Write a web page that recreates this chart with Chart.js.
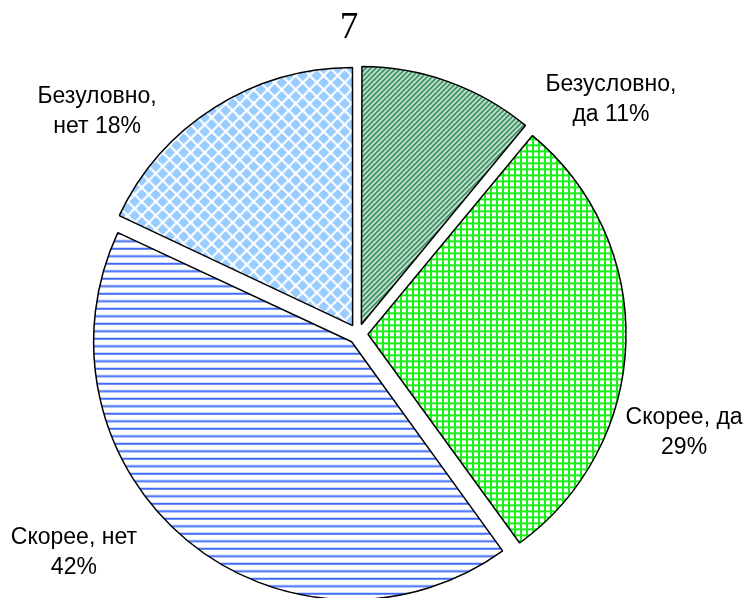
<!DOCTYPE html>
<html>
<head>
<meta charset="utf-8">
<script src="https://cdn.jsdelivr.net/npm/chart.js@4"></script>
<style>
  body { margin: 0; background: #fff; }
  canvas { display: block; }
</style>
</head>
<body>
<canvas id="pieChart" width="747" height="598"></canvas>
<script>
// Datos del gráfico
const chartTitle = '7';
const categories = [['Безусловно,', 'да 11%'], ['Скорее, да', '29%'], ['Скорее, нет', '42%'], ['Безуловно,', 'нет 18%']];
const values = [11, 29, 42, 18];
// posición de etiquetas: [ángulo desde arriba en grados, distancia relativa al radio]
const labelAngles = [47.2, 106.9, 232.4, 310.4];
const labelDist = [1.336, 1.321, 1.390, 1.328];

const pieRadius = 258;
const sliceOffset = 40;   // chart.js divide el offset entre 4

// Patrones de relleno
function makePattern(w, h, draw) {
    const c = document.createElement('canvas');
    c.width = w;
    c.height = h;
    const g = c.getContext('2d');
    g.fillStyle = '#fff';
    g.fillRect(0, 0, w, h);
    draw(g, w, h);
    return g.createPattern(c, 'repeat');
}

const ctx = document.getElementById('pieChart').getContext('2d');

// rayas diagonales verde oscuro
const diagPattern = makePattern(5, 5, function(g, w, h) {
    g.strokeStyle = '#2e8b57';
    g.lineWidth = 2.1;
    g.beginPath();
    g.moveTo(0, h); g.lineTo(w, 0);
    g.moveTo(-1, 1); g.lineTo(1, -1);
    g.moveTo(w - 1, h + 1); g.lineTo(w + 1, h - 1);
    g.stroke();
});
// cuadrícula verde
const gridPattern = makePattern(6, 6, function(g, w, h) {
    g.fillStyle = '#1aef1a';
    g.fillRect(0, 0, 2, h);
    g.fillRect(0, 0, w, 2);
});
// líneas horizontales azules
const hlinePattern = makePattern(4, 15, function(g, w, h) {
    g.fillStyle = '#3f6cf6';
    g.fillRect(0, 0, w, 2);
    g.fillRect(0, 7.5, w, 2);
});
// rombos azul claro (pixeles nítidos)
const diamondPattern = makePattern(14, 14, function(g, w, h) {
    g.fillStyle = '#99ccff';
    const d = 5;
    [[7, 7], [0, 0], [14, 0], [0, 14], [14, 14]].forEach(function(p) {
        for (let dy = -d; dy < d; dy++) {
            const half = d - Math.abs(dy + 0.5) + 0.5;
            g.fillRect(Math.round(p[0] - half), p[1] + dy, Math.round(half * 2), 1);
        }
    });
});

// chart.js agranda el radio de cada porción según su ángulo; lo compensamos
const radiusFix = {
    id: 'radiusFix',
    beforeDatasetsDraw(chart) {
        const off = sliceOffset / 4;
        chart.getDatasetMeta(0).data.forEach(function(arc) {
            const fix = 1 - Math.sin(Math.min(Math.PI, arc.circumference || 0));
            arc.outerRadius = pieRadius - off * fix;
        });
    }
};

const labelsPlugin = {
    id: 'pieLabels',
    afterDraw(chart) {
        const c = chart.ctx;
        const arc = chart.getDatasetMeta(0).data[0];
        const cx = arc.x, cy = arc.y, r = pieRadius;
        c.save();
        c.fillStyle = '#000';
        c.textAlign = 'center';
        c.textBaseline = 'middle';
        c.font = '23px "Liberation Sans", Arial, sans-serif';
        categories.forEach(function(lines, i) {
            const a = labelAngles[i] * Math.PI / 180;
            const x = cx + Math.sin(a) * r * labelDist[i];
            const y = cy - Math.cos(a) * r * labelDist[i];
            c.fillText(lines[0], x, y - 15);
            c.fillText(lines[1], x, y + 15);
        });
        // título
        c.font = '37px "Liberation Serif", "Times New Roman", serif';
        c.fillText(chartTitle, 349, 28);
        c.restore();
    }
};

new Chart(ctx, {
    type: 'pie',
    data: {
        labels: categories.map(l => l.join(' ')),
        datasets: [{
            data: values,
            backgroundColor: [diagPattern, gridPattern, hlinePattern, diamondPattern],
            borderColor: '#000',
            borderWidth: 1.5,
            offset: sliceOffset,
            hoverOffset: 0
        }]
    },
    options: {
        responsive: false,
        animation: false,
        radius: pieRadius,
        layout: {
            padding: { left: 0, right: 31, top: 70, bottom: 0 }
        },
        plugins: {
            legend: { display: false },
            tooltip: { enabled: false },
            title: { display: false }
        }
    },
    plugins: [radiusFix, labelsPlugin]
});
</script>
</body>
</html>
